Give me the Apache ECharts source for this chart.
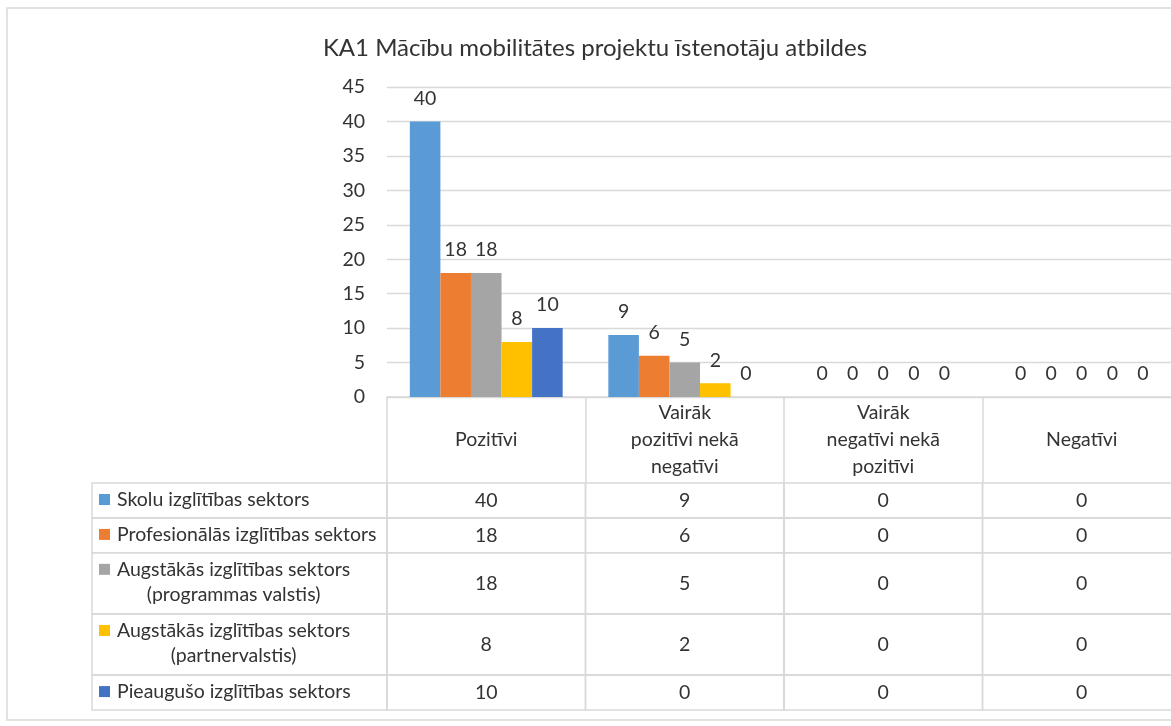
<!DOCTYPE html>
<html>
<head>
<meta charset="utf-8">
<script src="https://cdn.jsdelivr.net/npm/echarts@6/dist/echarts.min.js"></script>
<style>
  html, body { margin: 0; padding: 0; overflow: hidden; background: #fff; }
  #chart { width: 1190px; height: 726px; }
</style>
</head>
<body>
<div id="chart"></div>
<script>
// dati
const categories = ['Pozitīvi', 'Vairāk\npozitīvi nekā\nnegatīvi', 'Vairāk\nnegatīvi nekā\npozitīvi', 'Negatīvi'];
const seriesNames = [
  'Skolu izglītības sektors',
  'Profesionālās izglītības sektors',
  'Augstākās izglītības sektors\n(programmas valstis)',
  'Augstākās izglītības sektors\n(partnervalstis)',
  'Pieaugušo izglītības sektors'
];
const skolu = [40, 9, 0, 0];
const profesionalas = [18, 6, 0, 0];
const augstakasProgr = [18, 5, 0, 0];
const augstakasPartn = [8, 2, 0, 0];
const pieaugusie = [10, 0, 0, 0];
const yMin = 0, yMax = 45, yStep = 5;

const seriesValues = [skolu, profesionalas, augstakasProgr, augstakasPartn, pieaugusie];
const colors = ['#5b9bd5', '#ed7d31', '#a5a5a5', '#ffc000', '#4472c4'];
const FONT = 'Lato, "Open Sans", sans-serif';
const FS = 19.5;
const TXT = '#333333';
const LINE = '#d9d9d9';

// tabulas rindu augstumi (vienības), divrindu nosaukumiem augstāka rinda
const rowH = seriesNames.map(n => n.indexOf('\n') >= 0 ? 1.75 : 1);
const rowTop = [];
rowH.reduce((acc, h, i) => { rowTop[i] = acc; return acc + h; }, 0);
const rowTotal = rowH.reduce((a, b) => a + b, 0);
const legendW = 295;

const measure = document.createElement('canvas').getContext('2d');
measure.font = FS + 'px ' + FONT;

const tableData = [];
seriesValues.forEach((vals, s) => {
  vals.forEach((v, c) => tableData.push([c, s, v]));
});

function renderCell(params, api) {
  const c = api.value(0), s = api.value(1), v = api.value(2);
  const p0 = api.coord([c, rowTop[s]]);
  const p1 = api.coord([c, rowTop[s] + rowH[s]]);
  const bw = api.size([1, 0])[0];
  const x0 = p0[0] - bw / 2, y0 = p0[1], h = p1[1] - p0[1];
  const children = [
    { type: 'rect', shape: { x: x0, y: y0, width: bw, height: h },
      style: { fill: 'none', stroke: LINE, lineWidth: 1.5 } },
    { type: 'text', style: { text: String(v), x: p0[0], y: y0 + h / 2,
      align: 'center', verticalAlign: 'middle', textAlign: 'center', textVerticalAlign: 'middle',
      fontSize: FS, fontFamily: FONT, fill: TXT } }
  ];
  if (c === 0) {
    const lx = x0 - legendW;
    children.push({ type: 'rect', shape: { x: lx, y: y0, width: legendW, height: h },
      style: { fill: 'none', stroke: LINE, lineWidth: 1.5 } });
    children.push({ type: 'rect', shape: { x: lx + 7, y: y0 + 11, width: 11, height: 11 },
      style: { fill: colors[s] } });
    const lines = seriesNames[s].split('\n');
    const tx = lx + 25;
    const w1 = measure.measureText(lines[0]).width;
    lines.forEach((ln, i) => {
      children.push({ type: 'text', style: { text: ln, x: tx + w1 / 2, y: y0 + 17 + i * 25,
        align: 'center', verticalAlign: 'middle', textAlign: 'center', textVerticalAlign: 'middle',
        fontSize: FS, fontFamily: FONT, fill: TXT } });
    });
  }
  return { type: 'group', children: children };
}

const chart = echarts.init(document.getElementById('chart'));
chart.setOption({
  animation: false,
  title: {
    text: 'KA1 Mācību mobilitātes projektu īstenotāju atbildes',
    left: 'center', top: 31,
    textStyle: { fontFamily: FONT, fontSize: 24, fontWeight: 'normal', color: TXT }
  },
  graphic: [{
    type: 'rect', shape: { x: 7, y: 8, width: 1300, height: 712 },
    style: { fill: 'none', stroke: LINE, lineWidth: 1.5 }, silent: true
  }],
  grid: [
    { left: 387, top: 87, width: 794, height: 310 },
    { left: 387, top: 483, width: 794, height: 227 }
  ],
  xAxis: [{
    type: 'category', gridIndex: 0, data: categories,
    axisLine: { lineStyle: { color: LINE, width: 1.5 } },
    axisTick: { show: true, length: 86, interval: 0, lineStyle: { color: LINE, width: 1.5 } },
    axisLabel: { interval: 0, margin: 43, verticalAlign: 'middle', lineHeight: 27,
      fontFamily: FONT, fontSize: FS, color: TXT }
  }, {
    type: 'category', gridIndex: 1, data: categories, show: false
  }],
  yAxis: [{
    type: 'value', gridIndex: 0, min: yMin, max: yMax, interval: yStep,
    axisLine: { show: false }, axisTick: { show: false },
    axisLabel: { margin: 22, fontFamily: FONT, fontSize: FS, color: TXT },
    splitLine: { lineStyle: { color: LINE, width: 1.3 } }
  }, {
    type: 'value', gridIndex: 1, min: 0, max: rowTotal, inverse: true, show: false
  }],
  series: seriesValues.map((vals, i) => ({
    name: seriesNames[i].replace('\n', ' '),
    type: 'bar', xAxisIndex: 0, yAxisIndex: 0,
    data: vals,
    barGap: 0, barCategoryGap: '23%',
    itemStyle: { color: colors[i] },
    label: { show: true, position: 'top', distance: 13,
      fontFamily: FONT, fontSize: FS, color: TXT }
  })).concat([{
    type: 'custom', xAxisIndex: 1, yAxisIndex: 1,
    renderItem: renderCell,
    encode: { x: 0, y: 1 },
    data: tableData,
    silent: true
  }])
});
</script>
</body>
</html>
